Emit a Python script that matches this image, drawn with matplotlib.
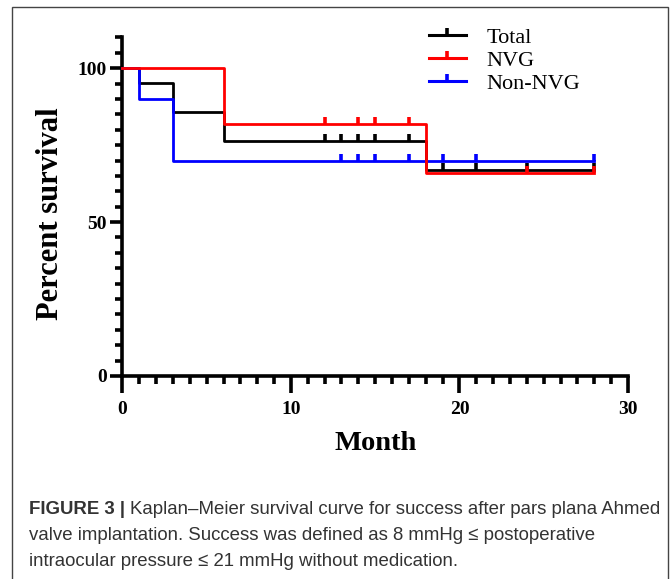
import matplotlib
matplotlib.use("Agg")
import matplotlib.pyplot as plt
from matplotlib.path import Path
from matplotlib.lines import Line2D
from matplotlib.patches import Rectangle

# ---- data ----
groups = ["Total", "NVG", "Non-NVG"]
colors = ["#000000", "#ff0000", "#0000ff"]

total_t = [0, 1, 3, 6, 18, 28]
total_s = [100, 95.2, 85.7, 76.2, 67.0, 67.0]
nvg_t = [0, 6, 18, 28]
nvg_s = [100, 81.8, 66.0, 66.0]
non_t = [0, 1, 3, 28]
non_s = [100, 90.0, 70.0, 70.0]

total_c = [12, 13, 14, 15, 17, 19, 21, 24, 28]
nvg_c = [12, 14, 15, 17, 24, 28]
non_c = [13, 14, 15, 17, 19, 21, 28]

x_ticks = [0, 10, 20, 30]
y_ticks = [0, 50, 100]

caption_bold = "FIGURE 3 | "
caption_lines = [
    "Kaplan\u2013Meier survival curve for success after pars plana Ahmed",
    "valve implantation. Success was defined as 8 mmHg \u2264 postoperative",
    "intraocular pressure \u2264 21 mmHg without medication.",
]

# ---- figure ----
W, H = 671, 579
fig = plt.figure(figsize=(W / 100, H / 100), dpi=100)
serif = ["Liberation Serif", "DejaVu Serif"]

# outer frame
fig.patches.append(Rectangle((12 / W, -0.05), (668 - 12) / W, (H - 7) / H + 0.05,
                             transform=fig.transFigure, fill=False,
                             edgecolor="#444444", linewidth=1.0))

ax = fig.add_axes([122.4 / W, (H - 376) / H, (628 - 122.4) / W, (376 - 37.4) / H])
ax.set_xlim(0, 30)
ax.set_ylim(0, 110)

tick_up = Path([(0, 0), (0, 1)], [Path.MOVETO, Path.LINETO])

def surv(t, s, c):
    # censoring time -> survival level
    out = []
    for ci in c:
        lvl = s[0]
        for ti, si in zip(t, s):
            if ti <= ci:
                lvl = si
        out.append(lvl)
    return out

series = [(total_t, total_s, total_c), (nvg_t, nvg_s, nvg_c), (non_t, non_s, non_c)]
order = [0, 2, 1]
for i in order:
    t, s, c = series[i]
    ax.step(t, s, where="post", color=colors[i], lw=2.0, clip_on=False, zorder=3 + (i == 1))
    ax.plot(c, surv(t, s, c), ls="none", marker=tick_up, ms=10, mew=2.6,
            color=colors[i], clip_on=False, zorder=3)

for sp in ["top", "right"]:
    ax.spines[sp].set_visible(False)
for sp in ["left", "bottom"]:
    ax.spines[sp].set_linewidth(2.6)

ax.set_xticks(x_ticks)
ax.set_xticks(range(0, 31), minor=True)
ax.set_yticks(y_ticks)
ax.set_yticks(range(0, 111, 5), minor=True)
ax.tick_params(axis="x", which="major", length=12, width=2.6, pad=6)
ax.tick_params(axis="x", which="minor", length=6, width=2.6)
ax.tick_params(axis="y", which="major", length=9, width=2.6, pad=2)
ax.tick_params(axis="y", which="minor", length=5, width=2.6)
for lab in ax.get_xticklabels() + ax.get_yticklabels():
    lab.set_fontfamily(serif)
    lab.set_fontweight("bold")
    lab.set_fontsize(14)

fig.text(376 / W, 1 - 443 / H, "Month", family=serif, weight="bold", fontsize=20.5,
         ha="center", va="center")
fig.text(51 / W, 1 - 214 / H, "Percent survival", family=serif, weight="bold", fontsize=22,
         ha="center", va="center", rotation=90)

handles = [Line2D([], [], color=colors[i], lw=2.2, marker=tick_up, ms=10, mew=2.6)
           for i in range(3)]
ax.legend(handles, groups, loc="upper left", bbox_to_anchor=(429 / W, 1 - 27 / H),
          bbox_transform=fig.transFigure, frameon=False, borderpad=0, borderaxespad=0,
          handlelength=1.65, handletextpad=0.95, labelspacing=0.12,
          prop={"family": serif, "size": 16})

# caption
sans = ["Liberation Sans", "DejaVu Sans"]
cap_color = "#333333"
cap_size = 13.4
ys = [510, 536, 561]
tb = fig.text(29 / W, 1 - ys[0] / H, caption_bold, family=sans, weight="bold",
              fontsize=cap_size, color=cap_color, va="center", ha="left")
fig.canvas.draw()
bb = tb.get_window_extent(fig.canvas.get_renderer())
fig.text(bb.x1 / W, 1 - ys[0] / H, caption_lines[0], family=sans, fontsize=cap_size,
         color=cap_color, va="center", ha="left")
for y, line in zip(ys[1:], caption_lines[1:]):
    fig.text(29 / W, 1 - y / H, line, family=sans, fontsize=cap_size,
             color=cap_color, va="center", ha="left")

fig.savefig("out.png", dpi=100)
